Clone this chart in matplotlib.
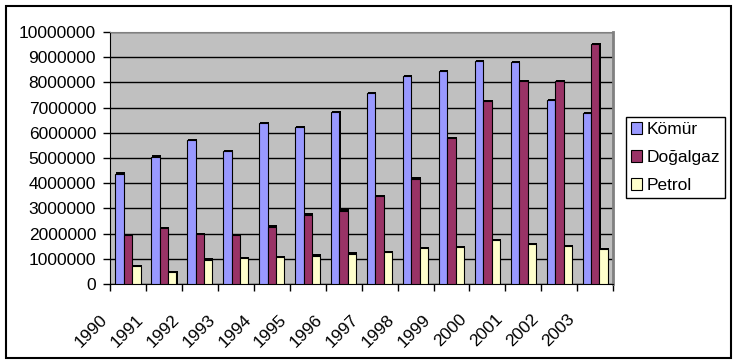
import numpy as np
import matplotlib
matplotlib.use("Agg")
import matplotlib.pyplot as plt
from matplotlib.patches import Rectangle

# data
years = ["1990", "1991", "1992", "1993", "1994", "1995", "1996",
         "1997", "1998", "1999", "2000", "2001", "2002", "2003"]
komur = [4380000, 5050000, 5700000, 5260000, 6370000, 6210000, 6810000,
         7570000, 8250000, 8450000, 8840000, 8800000, 7290000, 6770000]
dogalgaz = [1950000, 2220000, 1990000, 1950000, 2270000, 2750000, 2910000,
            3490000, 4180000, 5780000, 7250000, 8050000, 8050000, 9520000]
petrol = [720000, 460000, 960000, 1010000, 1050000, 1120000, 1200000,
          1270000, 1420000, 1470000, 1750000, 1590000, 1510000, 1370000]

series = [("Kömür", komur, "#9999FF"),
          ("Doğalgaz", dogalgaz, "#993366"),
          ("Petrol", petrol, "#FFFFCC")]

plt.rcParams['font.family'] = ['Liberation Sans', 'DejaVu Sans']

fig = plt.figure(figsize=(7.38, 3.64), dpi=100)
fig.patch.set_facecolor("white")
ax = fig.add_axes([0.149, 0.22, 0.682, 0.692])
ax.set_facecolor("#C0C0C0")

x = np.arange(len(years))
w = 0.233
for k, (name, vals, col) in enumerate(series):
    off = (k - 1) * w
    # thin dark "depth" behind each bar
    ax.bar(x + off + 0.03, np.array(vals) + 50000, width=w, color="black",
           zorder=2, linewidth=0)
    ax.bar(x + off, vals, width=w, color=col, edgecolor="black",
           linewidth=0.8, label=name, zorder=3)

ax.set_xlim(-0.5, len(years) - 0.5)
ax.set_ylim(0, 10000000)
ax.set_yticks(np.arange(0, 10000001, 1000000))
ax.set_yticklabels([str(v) for v in range(0, 10000001, 1000000)], fontsize=12.5)
ax.yaxis.grid(True, color="black", linewidth=1)
ax.set_axisbelow(True)

# ticks on group boundaries, labels hang from the left boundary of each group
ax.set_xticks(np.arange(len(years) + 1) - 0.5)
ax.set_xticklabels(years + [""], rotation=45, ha="right", va="top", fontsize=12.5)
ax.tick_params(axis="x", length=5, width=1, color="black", pad=15)
ax.tick_params(axis="y", length=5, width=1, color="black", pad=5)

ax.spines["left"].set_color("black")
ax.spines["bottom"].set_color("black")
ax.spines["top"].set_color("#808080")
ax.spines["right"].set_color("#808080")
ax.spines["right"].set_linewidth(2)

leg = ax.legend(loc="upper left", bbox_to_anchor=(0.848, 0.679),
                bbox_transform=fig.transFigure, fontsize=12.5, frameon=True,
                fancybox=False, edgecolor="black", framealpha=1,
                handlelength=0.65, handleheight=0.65, handletextpad=0.25,
                labelspacing=0.75, borderpad=0.3, borderaxespad=0)
leg.get_frame().set_linewidth(1)

fig.patches.append(Rectangle((6 / 738, 6 / 364), 725 / 738, 352 / 364,
                             transform=fig.transFigure, fill=False,
                             edgecolor="black", linewidth=1.5))

fig.savefig("out.png", dpi=100)
